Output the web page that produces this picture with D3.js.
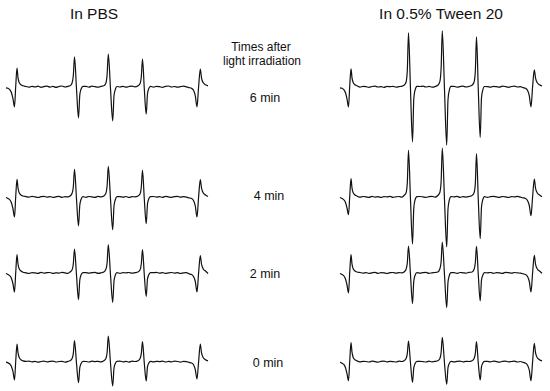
<!DOCTYPE html>
<html>
<head>
<meta charset="utf-8">
<title>EPR spectra - PBS vs 0.5% Tween 20</title>
<style>
body { margin: 0; background: #fff; }
svg text { font-family: "Liberation Sans", Arial, sans-serif; fill: #111; }
.trace { fill: none; stroke: #111; stroke-width: 1.2; stroke-linejoin: round; }
</style>
</head>
<body>
<svg id="chart" width="550" height="391"></svg>
<script src="https://cdn.jsdelivr.net/npm/d3@7"></script>
<script>

// field offsets (a.u.) shared by all traces
var field = [
  0, 2, 4, 5.5, 7, 8.5, 9.7, 11, 12, 13.3, 15, 17,
  20, 23, 26, 29, 32, 35, 38, 41, 44, 47, 50, 53, 56, 59, 62,
  64, 66, 67.3, 68.5, 70.5, 72.5, 73.8, 75, 77,
  80, 83, 86, 89, 92, 95,
  97.8, 99.8, 101.1, 102.3, 104.5, 106.7, 108, 109.2, 111,
  114, 117, 120, 123, 126, 129,
  132, 134, 135.3, 136.5, 138.3, 140.2, 141.5, 142.7, 144.5,
  147.5, 150.5, 153.5, 156.5, 159.5, 162.5, 165.5, 168.5, 171.5, 174.5, 177.5, 180.5,
  183, 185.5, 187.5, 189.3, 191, 192.6, 194.3, 195.5, 197.3, 199.5, 202
];

var conditions = ["In PBS", "In 0.5% Tween 20"];
var times = ["6 min", "4 min", "2 min", "0 min"];

// signal intensity (a.u.), one array per time point and condition
var pbs6 = [
  -1, -1.5, -3, -6, -12, -20, 0, 18.7, 9, 4, 2, 1,
  0.3, -0.4, 0.5, -0.2, 0.6, -0.5, 0.2, 0.7, -0.3, 0.4, -0.6, 0.3, 0.8, -0.2, 0.5,
  1, 3.5, 11, 30, -2, -31, -8, -2.5, 0.5,
  0.4, -0.3, 0.6, 0.1, -0.4, 0.5,
  1, 3.5, 12, 32.7, -2, -34, -9, -3, 0.3,
  -0.2, 0.5, -0.4, 0.3, 0.7, -0.1,
  1, 3, 10, 27.7, -2, -27.3, -7, -2, 0.4,
  -0.3, 0.5, 0.1, -0.5, 0.4, 0.8, -0.2, 0.3, -0.4, 0.2, 0.6, -0.1,
  -0.8, -1.5, -3.5, -9, -20, 0, 17.7, 9, 4, 2, 1
];
var tween6 = [
  -1, -1.5, -3, -6, -12, -20, 0, 18, 9, 4, 2, 1,
  -0.3, 0.4, 0.1, -0.5, 0.3, 0.6, -0.2, 0.2, -0.6, 0.4, 0.1, 0.5, -0.3, 0.2, 0.6,
  1.5, 4.5, 16, 54, -3, -55, -12, -3.5, 0.5,
  0.3, 0.6, -0.2, 0.4, -0.4, 0.2,
  1.5, 5, 18, 56, -3, -58.3, -13, -4, 0.4,
  0.5, -0.3, 0.2, 0.6, -0.2, 0.4,
  1.5, 4.5, 15, 50, -3, -50.7, -11, -3.5, 0.3,
  0.2, -0.4, 0.5, 0.1, -0.3, 0.6, 0.2, -0.5, 0.3, 0.7, -0.2, 0.1,
  -0.8, -1.5, -3.5, -9, -20, 0, 17, 9, 4, 2, 0.8
];
var pbs4 = [
  -0.5, -1.5, -3, -6, -12, -20, 0, 17.7, 9, 4, 2, 1,
  0.4, -0.2, 0.6, 0.1, -0.5, 0.3, 0.7, -0.1, 0.4, -0.4, 0.2, 0.6, -0.3, 0.3, 0.1,
  1, 3.5, 10, 27.7, -2, -29, -8, -2.5, 0.4,
  -0.3, 0.5, 0.2, -0.4, 0.6, 0.1,
  1, 3.5, 11, 30.7, -2, -32.7, -9, -3, 0.3,
  0.4, -0.2, 0.5, -0.5, 0.3, 0.2,
  1, 3, 10, 26.7, -2, -26.7, -7, -2, 0.4,
  0.5, -0.1, 0.3, -0.4, 0.6, 0.1, -0.3, 0.4, 0.7, -0.2, 0.3, -0.1,
  -0.8, -1.5, -3.5, -9, -20, 0, 17.4, 9, 4, 2, 0.5
];
var tween4 = [
  -0.5, -1.5, -3, -5.5, -11, -17.7, 0, 18.3, 9, 4, 2, 1,
  -0.2, 0.5, 0.2, -0.4, 0.6, -0.1, 0.3, -0.5, 0.4, 0.1, 0.6, -0.3, 0.2, 0.5, -0.2,
  1.5, 4, 14, 46.7, -3, -47, -11, -3, 0.4,
  0.5, 0.1, -0.4, 0.3, 0.6, -0.2,
  1.5, 4.5, 15, 49, -3, -50, -12, -3.5, 0.3,
  0.2, 0.6, -0.3, 0.4, -0.1, 0.5,
  1.5, 4, 13, 43.3, -3, -41.7, -10, -3, 0.4,
  -0.4, 0.3, 0.6, 0.1, -0.3, 0.5, 0.2, -0.5, 0.4, 0.1, 0.6, -0.2,
  -0.8, -1.5, -3.5, -8.5, -18.7, 0, 18, 9, 4, 2, 0.3
];
var pbs2 = [
  -0.5, -1.5, -3, -5.5, -11, -19, 0, 18.3, 9, 4, 2, 0.8,
  0.2, -0.5, 0.4, 0.1, -0.3, 0.6, -0.2, 0.3, 0.5, -0.4, 0.2, -0.1, 0.6, 0.1, -0.3,
  1, 3, 9, 24, -2, -26.7, -7, -2, 0.3,
  0.4, -0.2, 0.3, 0.6, -0.4, 0.1,
  1, 3.5, 10, 28.3, -2, -29.4, -8, -2.5, 0.3,
  -0.3, 0.4, 0.1, 0.5, -0.2, 0.3,
  1, 3, 9, 23.3, -2, -23.4, -6, -2, 0.4,
  0.3, 0.6, -0.2, 0.4, -0.4, 0.2, 0.5, -0.1, 0.3, -0.5, 0.2, 0.4,
  -0.8, -1.5, -3.5, -8.5, -19, 0, 17.3, 9, 4, 2, -0.5
];
var tween2 = [
  -0.5, -1.5, -3, -6, -12, -20, 0, 18.4, 9, 4, 2, 1,
  0.5, -0.1, 0.3, -0.4, 0.2, 0.6, -0.3, 0.4, 0.1, -0.5, 0.3, 0.5, -0.2, 0.4, 0.1,
  1, 3.5, 10, 27, -2, -30.6, -8, -2.5, 0.4,
  -0.2, 0.4, 0.6, -0.3, 0.2, 0.5,
  1, 4, 11, 31, -2, -34.6, -9, -3, 0.3,
  0.3, -0.4, 0.5, 0.2, -0.1, 0.6,
  1, 3.5, 10, 26.7, -2, -28, -7, -2.5, 0.4,
  0.1, 0.5, -0.3, 0.4, 0.2, -0.4, 0.6, 0.3, -0.2, 0.5, 0.1, -0.1,
  -0.8, -1.5, -3.5, -8.5, -19, 0, 17.7, 9, 4, 2, -0.3
];
var pbs0 = [
  -0.5, -1.2, -2.5, -5, -10, -18.3, 0, 17.7, 9, 4, 2, 0.8,
  0.3, 0.6, -0.2, 0.4, -0.5, 0.2, 0.5, -0.1, 0.3, 0.6, -0.3, 0.2, 0.4, -0.4, 0.3,
  1, 3, 8, 21, -1.5, -21, -6, -2, 0.3,
  0.2, -0.3, 0.5, 0.1, 0.4, -0.2,
  1, 3, 9, 25.7, -1.5, -24.3, -6.5, -2, 0.3,
  0.5, -0.1, 0.3, -0.4, 0.6, 0.2,
  1, 3, 8, 20, -1.5, -19.3, -5, -1.5, 0.4,
  -0.2, 0.4, 0.1, 0.6, -0.3, 0.3, -0.1, 0.5, 0.2, -0.4, 0.3, 0.1,
  -0.7, -1.3, -3, -8, -17.3, 0, 17.7, 9, 4, 2, 0.8
];
var tween0 = [
  -0.5, -1.5, -3, -6, -12, -19, 0, 19, 9.5, 4, 2, 0.8,
  -0.1, 0.4, 0.2, -0.3, 0.5, 0.1, -0.4, 0.3, 0.6, -0.2, 0.3, 0.1, -0.3, 0.5, 0.2,
  1, 3, 8, 20.7, -1.5, -20.6, -6, -2, 0.3,
  0.4, 0.1, -0.3, 0.5, -0.1, 0.3,
  1, 3, 9, 24.4, -1.5, -22.6, -6, -2, 0.3,
  -0.2, 0.3, 0.6, -0.1, 0.4, 0.2,
  1, 3, 8, 20, -1.5, -18.3, -5, -1.5, 0.4,
  0.3, -0.2, 0.5, 0.1, -0.4, 0.4, 0.6, -0.1, 0.2, 0.5, -0.3, 0.2,
  -0.7, -1.5, -3.5, -8.5, -19, 0, 18.4, 9, 4, 2, 0.8
];

var spectra = [
  [pbs6, tween6],
  [pbs4, tween4],
  [pbs2, tween2],
  [pbs0, tween0]
];

var svg = d3.select("#chart");

// layout
var colRange = [[6, 208], [340, 542]],
    rowBase = [86.8, 197, 273, 361.7],
    titleX = [94, 441],
    timeX = [265, 269, 265, 268],
    timeY = [101.5, 200, 278, 367];

var x = d3.scaleLinear().domain([0, 202]);
var y = d3.scaleLinear().domain([-60, 60]);

var line = d3.line()
    .x(function(d) { return x(d[0]); })
    .y(function(d) { return y(d[1]); })
    .curve(d3.curveMonotoneX);

spectra.forEach(function(row, r) {
  row.forEach(function(values, c) {
    x.range(colRange[c]);
    y.range([rowBase[r] + 60, rowBase[r] - 60]);
    var pts = field.map(function(f, i) { return [f, values[i]]; });
    svg.append("path")
        .attr("class", "trace")
        .attr("d", line(pts));
  });
});

svg.selectAll(".title")
    .data(conditions)
    .enter().append("text")
    .attr("class", "title")
    .attr("x", function(d, i) { return titleX[i]; })
    .attr("y", 18.5)
    .attr("text-anchor", "middle")
    .attr("font-size", "15.5px")
    .text(function(d) { return d; });

var head = svg.append("text")
    .attr("text-anchor", "middle")
    .attr("font-size", "12px");
head.append("tspan").attr("x", 261).attr("y", 51).text("Times after");
head.append("tspan").attr("x", 262).attr("y", 64.5).text("light irradiation");

svg.selectAll(".time")
    .data(times)
    .enter().append("text")
    .attr("class", "time")
    .attr("x", function(d, i) { return timeX[i]; })
    .attr("y", function(d, i) { return timeY[i]; })
    .attr("text-anchor", "middle")
    .attr("font-size", "12.5px")
    .text(function(d) { return d; });

</script>
</body>
</html>
